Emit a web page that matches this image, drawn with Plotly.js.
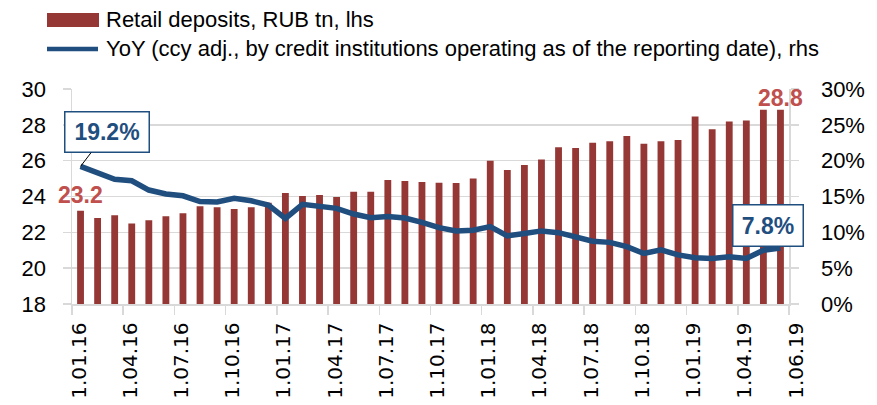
<!DOCTYPE html>
<html>
<head>
<meta charset="utf-8">
<script src="https://cdn.plot.ly/plotly-3.0.1.min.js"></script>
<style>html,body{margin:0;padding:0;background:#fff;}#chart{width:877px;height:405px;}</style>
</head>
<body>
<div id="chart"></div>
<script>
// ---- data ----
const dates = ['1.01.16','1.02.16','1.03.16','1.04.16','1.05.16','1.06.16','1.07.16','1.08.16','1.09.16','1.10.16','1.11.16','1.12.16',
               '1.01.17','1.02.17','1.03.17','1.04.17','1.05.17','1.06.17','1.07.17','1.08.17','1.09.17','1.10.17','1.11.17','1.12.17',
               '1.01.18','1.02.18','1.03.18','1.04.18','1.05.18','1.06.18','1.07.18','1.08.18','1.09.18','1.10.18','1.11.18','1.12.18',
               '1.01.19','1.02.19','1.03.19','1.04.19','1.05.19','1.06.19'];
const deposits = [23.20, 22.80, 22.96, 22.50, 22.67, 22.90, 23.06, 23.45, 23.40, 23.30, 23.40, 23.65,
                  24.20, 24.03, 24.08, 23.97, 24.27, 24.27, 24.92, 24.87, 24.81, 24.77, 24.75, 25.00,
                  26.00, 25.48, 25.76, 26.06, 26.75, 26.71, 27.00, 27.09, 27.38, 26.95, 27.09, 27.16,
                  28.46, 27.76, 28.18, 28.24, 28.84, 28.84];
const yoy = [19.2, 18.25, 17.4, 17.2, 15.9, 15.35, 15.1, 14.3, 14.25, 14.75, 14.4, 13.8,
             11.95, 13.9, 13.7, 13.35, 12.55, 12.05, 12.2, 12.0, 11.4, 10.65, 10.2, 10.3,
             10.8, 9.5, 9.85, 10.2, 9.95, 9.4, 8.75, 8.6, 8.0, 7.05, 7.55, 6.85,
             6.45, 6.35, 6.6, 6.35, 7.5, 7.8];
const tickLabels = ['1.01.16','1.04.16','1.07.16','1.10.16','1.01.17','1.04.17','1.07.17','1.10.17',
                    '1.01.18','1.04.18','1.07.18','1.10.18','1.01.19','1.04.19','1.06.19'];
const depositsName = 'Retail deposits, RUB tn, lhs';
const yoyName = 'YoY (ccy adj., by credit institutions operating as of the reporting date), rhs';

// ---- styling ----
const RED = '#953735', LABELRED = '#C0504D', BLUE = '#1F4E7F', GRID = '#d9d9d9';
const FONT = 'Liberation Sans, Arial, sans-serif';
const M = {l: 72, r: 88, t: 89, b: 101};
const PW = 877 - M.l - M.r, PH = 405 - M.t - M.b;
const px = x => (x - M.l) / PW;
const py = y => (405 - M.b - y) / PH;

// tick positions at category boundaries every 3 months, plus the axis end
const tickPos = tickLabels.map((t, i) => i < tickLabels.length - 1 ? dates.indexOf(t) - 0.5 : dates.length - 0.5);

const bars = {
  type: 'bar', x: dates, y: deposits, name: depositsName,
  marker: {color: RED}, width: 0.4, yaxis: 'y', hoverinfo: 'skip'
};
const line = {
  type: 'scatter', mode: 'lines', x: dates, y: yoy, name: yoyName,
  line: {color: BLUE, width: 5.5}, yaxis: 'y2', hoverinfo: 'skip'
};

const layout = {
  width: 877, height: 405, margin: M,
  paper_bgcolor: '#fff', plot_bgcolor: '#fff', showlegend: false,
  font: {family: FONT, color: '#000'},
  xaxis: {
    type: 'category', range: [-0.5, dates.length - 0.5],
    tickmode: 'array', tickvals: tickPos, ticktext: tickLabels,
    tickangle: -90, ticklabelshift: 7, ticks: 'outside', ticklen: 9, tickcolor: GRID, tickwidth: 1.5,
    tickfont: {family: 'DejaVu Sans, sans-serif', size: 20, color: '#000'},
    showgrid: false, showline: true, linecolor: GRID, linewidth: 1.5, zeroline: false
  },
  yaxis: {
    range: [18, 30], dtick: 2, tick0: 18, showgrid: true, gridcolor: GRID, gridwidth: 1.5,
    showline: true, linecolor: GRID, linewidth: 1.5, zeroline: false,
    ticks: 'outside', ticklen: 8, tickcolor: GRID, tickwidth: 1.5, ticklabelstandoff: 12,
    tickfont: {family: FONT, size: 22, color: '#000'}
  },
  yaxis2: {
    overlaying: 'y', side: 'right', range: [0, 30], dtick: 5, tick0: 0, ticksuffix: '%',
    showgrid: false, showline: true, linecolor: GRID, linewidth: 1.5, zeroline: false,
    ticks: 'outside', ticklen: 8, tickcolor: GRID, tickwidth: 1.5, ticklabelstandoff: 18,
    tickfont: {family: FONT, size: 22, color: '#000'}
  },
  shapes: [
    {type: 'rect', xref: 'paper', yref: 'paper', x0: px(47), x1: px(99), y0: py(27), y1: py(13),
     fillcolor: RED, line: {width: 0}},
    {type: 'line', xref: 'paper', yref: 'paper', x0: px(47), x1: px(98), y0: py(49), y1: py(49),
     line: {color: BLUE, width: 4.5}}
  ],
  annotations: [
    {xref: 'paper', yref: 'paper', x: px(104), y: py(19), xanchor: 'left', yanchor: 'middle',
     text: depositsName, showarrow: false, font: {family: FONT, size: 22, color: '#000'}},
    {xref: 'paper', yref: 'paper', x: px(104), y: py(49), xanchor: 'left', yanchor: 'middle',
     text: yoyName, showarrow: false, font: {family: FONT, size: 22, color: '#000'}},
    {x: dates[0], y: deposits[0], yref: 'y', yshift: 16, showarrow: false,
     text: deposits[0].toFixed(1), font: {family: FONT, size: 23, color: LABELRED, weight: 'bold'}},
    {x: dates[dates.length - 1], y: deposits[deposits.length - 1], yref: 'y', yshift: 12, showarrow: false,
     text: deposits[deposits.length - 1].toFixed(1), font: {family: FONT, size: 23, color: LABELRED, weight: 'bold'}},
    {x: dates[0], y: yoy[0], yref: 'y2', showarrow: true, ax: 26, ay: -34, arrowhead: 0, arrowwidth: 1,
     arrowcolor: '#000', standoff: 0, text: yoy[0].toFixed(1) + '%',
     font: {family: FONT, size: 23, color: BLUE, weight: 'bold'},
     bgcolor: '#fff', bordercolor: BLUE, borderwidth: 1.5, borderpad: 1, width: 81, height: 37},
    {x: dates[dates.length - 1], y: yoy[yoy.length - 1], yref: 'y2', showarrow: false, xshift: -12, yshift: 22.5,
     text: yoy[yoy.length - 1].toFixed(1) + '%',
     font: {family: FONT, size: 23, color: BLUE, weight: 'bold'},
     bgcolor: '#fff', bordercolor: BLUE, borderwidth: 1.5, borderpad: 1, width: 67, height: 38}
  ]
};

Plotly.newPlot('chart', [bars, line], layout, {displayModeBar: false, staticPlot: true});
</script>
</body>
</html>
